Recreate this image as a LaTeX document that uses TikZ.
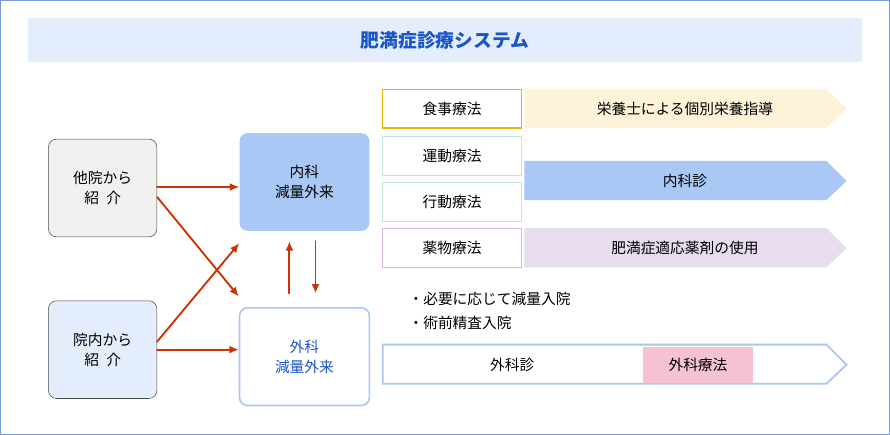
\documentclass[tikz,border=0pt]{standalone}
\usepackage{fontspec}
\setmainfont{Noto Sans CJK JP}
\usepackage{tikz}
\usetikzlibrary{arrows.meta,positioning}
\definecolor{titleblue}{HTML}{1A56C8}
\definecolor{paleblue}{HTML}{E3EDFB}
\definecolor{midblue}{HTML}{A9C8F5}
\definecolor{refred}{HTML}{CC3300}
\definecolor{gold}{HTML}{E8B800}
\definecolor{paleteal}{HTML}{BDE6E0}
\definecolor{palepurple}{HTML}{D8B8E0}
\definecolor{cream}{HTML}{FDF3D8}
\definecolor{lilac}{HTML}{E8DCEF}
\definecolor{pink}{HTML}{F5C2D4}
\begin{document}
\begin{tikzpicture}[
    x=0.75pt,y=-0.75pt,
    line cap=round,
    %styles
    source/.style={draw=black!70,rounded corners=6pt,minimum width=81pt,minimum height=73pt,align=center,font=\fontsize{11}{15}\selectfont},
    clinic/.style={rounded corners=6pt,minimum width=97pt,minimum height=73pt,align=center,font=\fontsize{11}{15}\selectfont},
    therapy/.style={draw,line width=1pt,minimum width=104pt,minimum height=29pt,font=\fontsize{11}{12}\selectfont},
    flow/.style={-{Latex[length=7pt,width=6pt]},refred,line width=1.4pt},
    band/.style={font=\fontsize{11}{12}\selectfont},
  ]
  \draw[titleblue!60,fill=white] (2,2) rectangle (888,434);
  \fill[paleblue] (30,20) rectangle (860,63);
  \node[titleblue,font=\fontsize{14}{16}\selectfont\bfseries] (title) at (445,42) {肥満症診療システム};

  \node[source,fill=black!6] (other) at (104,189) {他院から\\紹\enspace 介};
  \node[source,fill=paleblue] (inner) at (104,350) {院内から\\紹\enspace 介};
  \node[clinic,fill=midblue] (med) at (305,183) {内科\\減量外来};
  \node[clinic,draw=midblue,line width=1.2pt,fill=white,text=titleblue] (surg) at (305,357) {外科\\減量外来};

  \draw[flow] (other.east |- 0,188) -- (med.west |- 0,188);
  \draw[flow] (other.east |- 0,198) -- (surg.west |- 0,297);
  \draw[flow] (inner.east |- 0,342) -- (med.west |- 0,244);
  \draw[flow] (inner.east |- 0,350) -- (surg.west |- 0,350);
  \draw[flow] (290,294) -- (290,242);
  \draw[flow] (316,242) -- (316,294);

  \node[therapy,draw=gold] (diet) at (452,110) {食事療法};
  \node[therapy,draw=paleteal] (exer) at (452,157) {運動療法};
  \node[therapy,draw=paleteal] (behav) at (452,203) {行動療法};
  \node[therapy,draw=palepurple] (drug) at (452,249) {薬物療法};

  %pentagon bands
  \fill[cream] (524,90) -- (825,90) -- (845,110) -- (825,129) -- (524,129) -- cycle;
  \node[band] (nutri) at (684,110) {栄養士による個別栄養指導};
  \fill[midblue] (524,162) -- (825,162) -- (845,182) -- (825,201) -- (524,201) -- cycle;
  \node[band] (meddx) at (684,182) {内科診};
  \fill[lilac] (524,229) -- (825,229) -- (845,249) -- (825,268) -- (524,268) -- cycle;
  \node[band] (pharm) at (684,249) {肥満症適応薬剤の使用};

  \node[band,anchor=west] (admit) at (404,299) {・必要に応じて減量入院};
  \node[band,anchor=west] (preop) at (404,323) {・術前精査入院};

  \draw[midblue,line width=1.4pt,fill=white] (383,345) -- (825,345) -- (845,365) -- (825,384) -- (383,384) -- cycle;
  \node[band] (surgdx) at (512,365) {外科診};
  \fill[pink] (642,347) rectangle (752,383);
  \node[band] (surgtx) at (697,365) {外科療法};
\end{tikzpicture}
\end{document}
